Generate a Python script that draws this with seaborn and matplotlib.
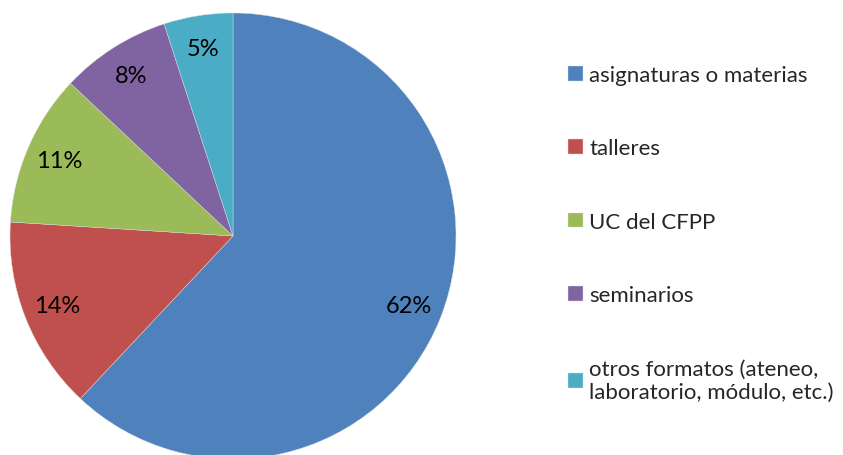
import matplotlib
matplotlib.use("Agg")
import matplotlib.pyplot as plt
import seaborn as sns

# Data
categories = [
    "asignaturas o materias",
    "talleres",
    "UC del CFPP",
    "seminarios",
    "otros formatos (ateneo,\nlaboratorio, módulo, etc.)",
]
shares = [62, 14, 11, 8, 5]
colors = ["#4F81BD", "#C0504D", "#9BBB59", "#8064A2", "#4BACC6"]

sns.set_theme(style="white")
plt.rcParams["font.family"] = ["Lato", "DejaVu Sans"]

fig = plt.figure(figsize=(8.43, 4.56), dpi=100)
# pie area: centre ~(233, 237) px, radius ~223 px
ax = fig.add_axes([10 / 843, -4 / 456, 446 / 843, 446 / 456])

wedges, texts, autotexts = ax.pie(
    shares,
    colors=colors,
    startangle=90,
    counterclock=False,
    autopct="%1.0f%%",
    pctdistance=0.85,
    wedgeprops=dict(linewidth=0.3, edgecolor="#dddddd"),
    textprops=dict(fontsize=17, color="black"),
)
ax.set_xlim(-1, 1)
ax.set_ylim(-1, 1)
ax.set_aspect("equal")

fig.legend(
    wedges,
    categories,
    loc="upper left",
    bbox_to_anchor=(557 / 843, 1 - 55 / 456),
    frameon=False,
    fontsize=16,
    handlelength=0.65,
    handleheight=0.65,
    handletextpad=0.3,
    labelspacing=2.4,
    borderpad=0,
)

fig.savefig("out.png", dpi=100)
